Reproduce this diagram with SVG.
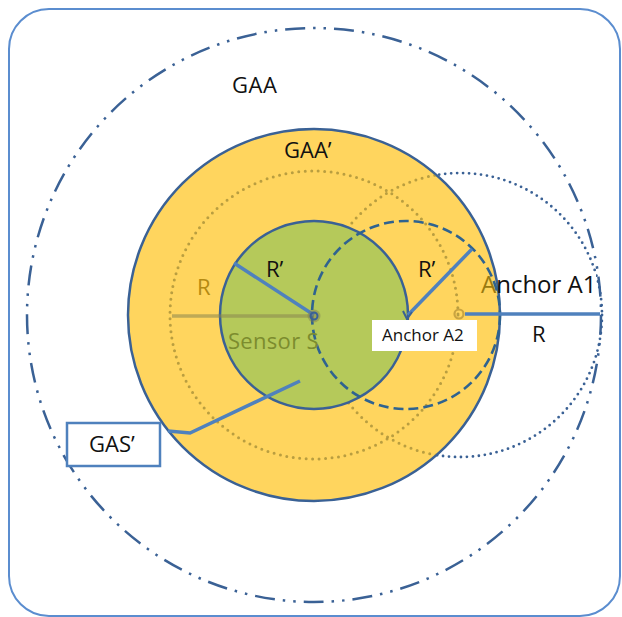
<svg xmlns="http://www.w3.org/2000/svg" width="622" height="617" viewBox="0 0 622 617">
<style>
text{font-family:"Open Sans","Noto Sans","DejaVu Sans",sans-serif;font-size:22px;fill:#111}
.dk{fill:none;stroke:#3A6195;stroke-width:2.5}
.gold{fill:none;stroke:#A89038;stroke-width:3;stroke-dasharray:0 6.5;stroke-linecap:round;opacity:.8}
.blu{stroke:#4F81BD;stroke-width:3.5;fill:none}
</style>
<defs>
<clipPath id="inYellow"><circle cx="314" cy="315" r="185"/></clipPath>
</defs>
<rect x="9" y="9" width="611" height="607" rx="40" fill="#fff" stroke="#5B8DCF" stroke-width="2"/>
<g id="GAA">
<circle class="dk" cx="314" cy="315" r="287" stroke-dasharray="20 8 2.5 8 2.5 8"/>
<text x="232" y="93" style="letter-spacing:0.5px">GAA</text>
</g>
<g id="anchorA1-range">
<circle cx="460" cy="315" r="142" fill="none" stroke="#3A6195" stroke-width="2.8" stroke-dasharray="0 6" stroke-linecap="round"/>
</g>
<rect x="482" y="274" width="114" height="24" fill="#fff"/>
<g id="GAA-prime">
<circle cx="314" cy="315" r="186" fill="#FFD55E" stroke="#3A6195" stroke-width="2.5"/>
<text x="284" y="158">GAA’</text>
</g>
<g clip-path="url(#inYellow)">
<circle class="gold" cx="314" cy="315" r="144"/>
<circle class="gold" cx="460" cy="315" r="142"/>
</g>
<g id="GAS-prime">
<circle cx="314" cy="315" r="94" fill="#B5C95A" stroke="#3A6195" stroke-width="2.5"/>
</g>
<g id="connectors">
<line x1="172" y1="316" x2="314" y2="316" stroke="#8A8650" stroke-width="3.5" opacity=".55"/>
<circle cx="406" cy="315" r="94" fill="none" stroke="#2F6390" stroke-width="2.6" stroke-dasharray="10 5"/>
<line class="blu" x1="314" y1="315" x2="234" y2="263"/>
<line class="blu" x1="408" y1="315" x2="472" y2="249"/>
<line class="blu" x1="465" y1="314" x2="600" y2="314"/>
<polyline class="blu" points="168,431 190,433 300,381" stroke-width="2.5"/>
<path d="M403,311 L407,319 L412,312" fill="none" stroke="#3A6195" stroke-width="2"/>
</g>
<g id="sensorS">
<circle cx="314" cy="316" r="6.5" fill="#7C7C55" opacity=".45"/>
<circle cx="314" cy="316" r="3.5" fill="none" stroke="#3A6195" stroke-width="2"/>
<text x="228" y="349" style="fill:#7C8C2E;letter-spacing:0.3px">Sensor S</text>
</g>
<g id="anchorA1">
<circle cx="459" cy="314" r="4.5" fill="none" stroke="#C9A441" stroke-width="2.2"/>
<text x="481" y="293" style="font-size:24px"><tspan style="fill:#9A7A10">A</tspan>nchor A1</text>
</g>
<g id="anchorA2">
<rect x="372" y="320" width="105" height="31" fill="#fff"/>
<text x="382" y="341" style="font-size:17px">Anchor A2</text>
</g>
<g id="labels">
<text x="197" y="295" style="fill:#B48A12">R</text>
<text x="266" y="277">R’</text>
<text x="418" y="277">R’</text>
<text x="532" y="342">R</text>
</g>
<g id="GAS-label">
<rect x="67" y="423" width="93" height="43" fill="#fff" stroke="#4F81BD" stroke-width="2.5"/>
<text x="89" y="452">GAS’</text>
</g>
</svg>
